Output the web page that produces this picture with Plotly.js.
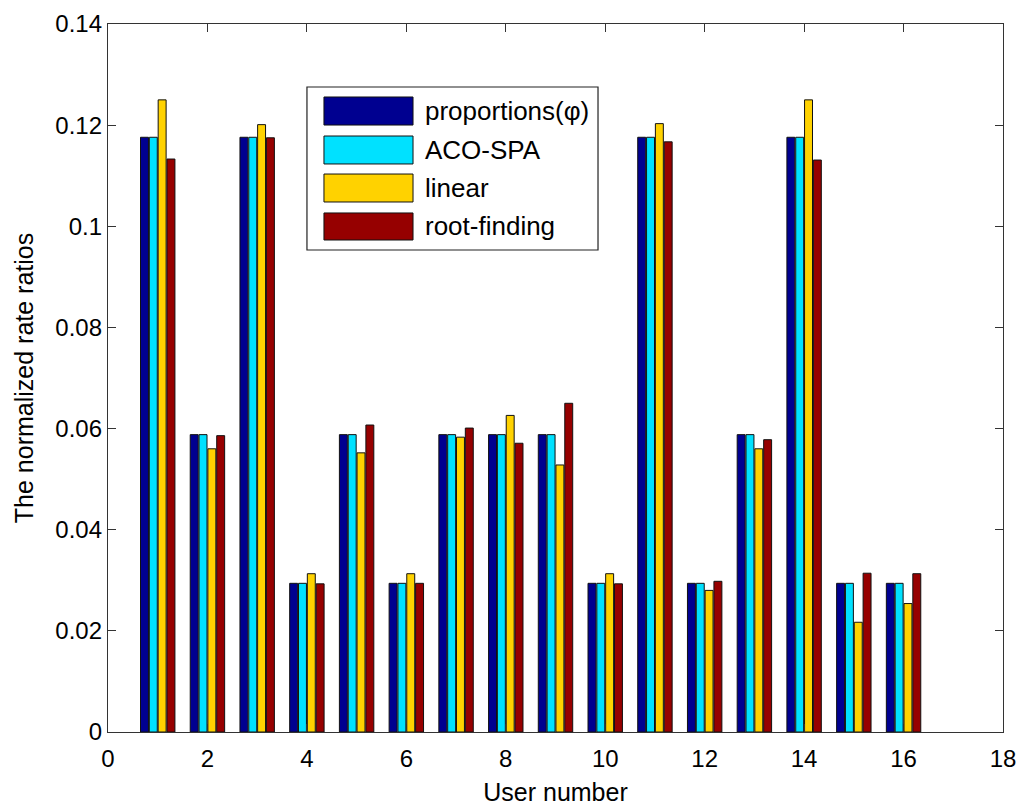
<!DOCTYPE html>
<html>
<head>
<meta charset="utf-8">
<script src="https://cdn.plot.ly/plotly-3.0.1.min.js"></script>
<style>html,body{margin:0;padding:0;background:#fff;}#chart{width:1024px;height:811px;}</style>
</head>
<body>
<div id="chart"></div>
<script>
var users = [1,2,3,4,5,6,7,8,9,10,11,12,13,14,15,16];
var seriesNames = ["proportions(φ)", "ACO-SPA", "linear", "root-finding"];
var proportions = [0.1176,0.0588,0.1176,0.0294,0.0588,0.0294,0.0588,0.0588,0.0588,0.0294,0.1176,0.0294,0.0588,0.1176,0.0294,0.0294];
var acoSpa      = [0.1176,0.0588,0.1176,0.0294,0.0588,0.0294,0.0588,0.0588,0.0588,0.0294,0.1176,0.0294,0.0588,0.1176,0.0294,0.0294];
var linear      = [0.1250,0.0560,0.1201,0.0313,0.0552,0.0313,0.0583,0.0626,0.0528,0.0313,0.1203,0.0280,0.0560,0.1250,0.0217,0.0254];
var rootFinding = [0.1133,0.0586,0.1175,0.0293,0.0607,0.0294,0.0601,0.0571,0.0650,0.0293,0.1167,0.0298,0.0578,0.1131,0.0314,0.0313];
var xTicks = [0,2,4,6,8,10,12,14,16,18];
var yTicks = [0,0.02,0.04,0.06,0.08,0.1,0.12,0.14];
var yTickLabels = ["0","0.02","0.04","0.06","0.08","0.1","0.12","0.14"];

var colors = ["#000090", "#00E1FF", "#FFD200", "#960000"];
var allSeries = [proportions, acoSpa, linear, rootFinding];

var traces = allSeries.map(function(vals, i) {
  return {
    type: "bar", x: users, y: vals, name: seriesNames[i],
    marker: {color: colors[i], line: {color: "#111", width: 1}},
    showlegend: false, hoverinfo: "x+y"
  };
});

var font = "Arial, 'Liberation Sans', sans-serif";

// custom MATLAB-style legend (layout only)
var shapes = [{type: "rect", xref: "paper", yref: "paper", x0: 0.2223, x1: 0.5475, y0: 0.6808, y1: 0.911,
  line: {color: "#222", width: 1.2}, fillcolor: "#fff", layer: "above"}];
var annotations = [];
var swY = [[0.8573, 0.8969], [0.8023, 0.8418], [0.7486, 0.7881], [0.6949, 0.7331]];
for (var i = 0; i < 4; i++) {
  shapes.push({type: "rect", xref: "paper", yref: "paper", x0: 0.2413, x1: 0.3408, y0: swY[i][0], y1: swY[i][1],
    line: {color: "#111", width: 1}, fillcolor: colors[i], layer: "above"});
  annotations.push({xref: "paper", yref: "paper", x: 0.3520, y: (swY[i][0] + swY[i][1]) / 2,
    xanchor: "left", yanchor: "middle", text: seriesNames[i], showarrow: false,
    font: {family: font, size: 26, color: "#000"}});
}

var layout = {
  width: 1024, height: 811,
  margin: {l: 108, r: 21, t: 24, b: 79},
  paper_bgcolor: "#fff", plot_bgcolor: "#fff",
  barmode: "group", bargap: 0.29, bargroupgap: 0.1,
  font: {family: font, color: "#000"},
  xaxis: {
    range: [0, 18], tickvals: xTicks, ticktext: xTicks.map(String),
    ticks: "inside", ticklen: 8, tickcolor: "#333", tickwidth: 1,
    showline: true, linecolor: "#333", linewidth: 1.2, mirror: "ticks",
    showgrid: false, zeroline: false, ticklabelstandoff: 5,
    tickfont: {family: font, size: 24, color: "#000"},
    title: {text: "User number", font: {family: font, size: 25, color: "#000"}, standoff: 12}
  },
  yaxis: {
    range: [0, 0.14], tickvals: yTicks, ticktext: yTickLabels,
    ticks: "inside", ticklen: 8, tickcolor: "#333", tickwidth: 1,
    showline: true, linecolor: "#333", linewidth: 1.2, mirror: "ticks",
    showgrid: false, zeroline: false,
    tickfont: {family: font, size: 24, color: "#000"},
    title: {text: "The normalized rate ratios", font: {family: font, size: 25, color: "#000"}, standoff: 14}
  },
  shapes: shapes,
  annotations: annotations
};

Plotly.newPlot("chart", traces, layout, {displayModeBar: false, staticPlot: true});
</script>
</body>
</html>
